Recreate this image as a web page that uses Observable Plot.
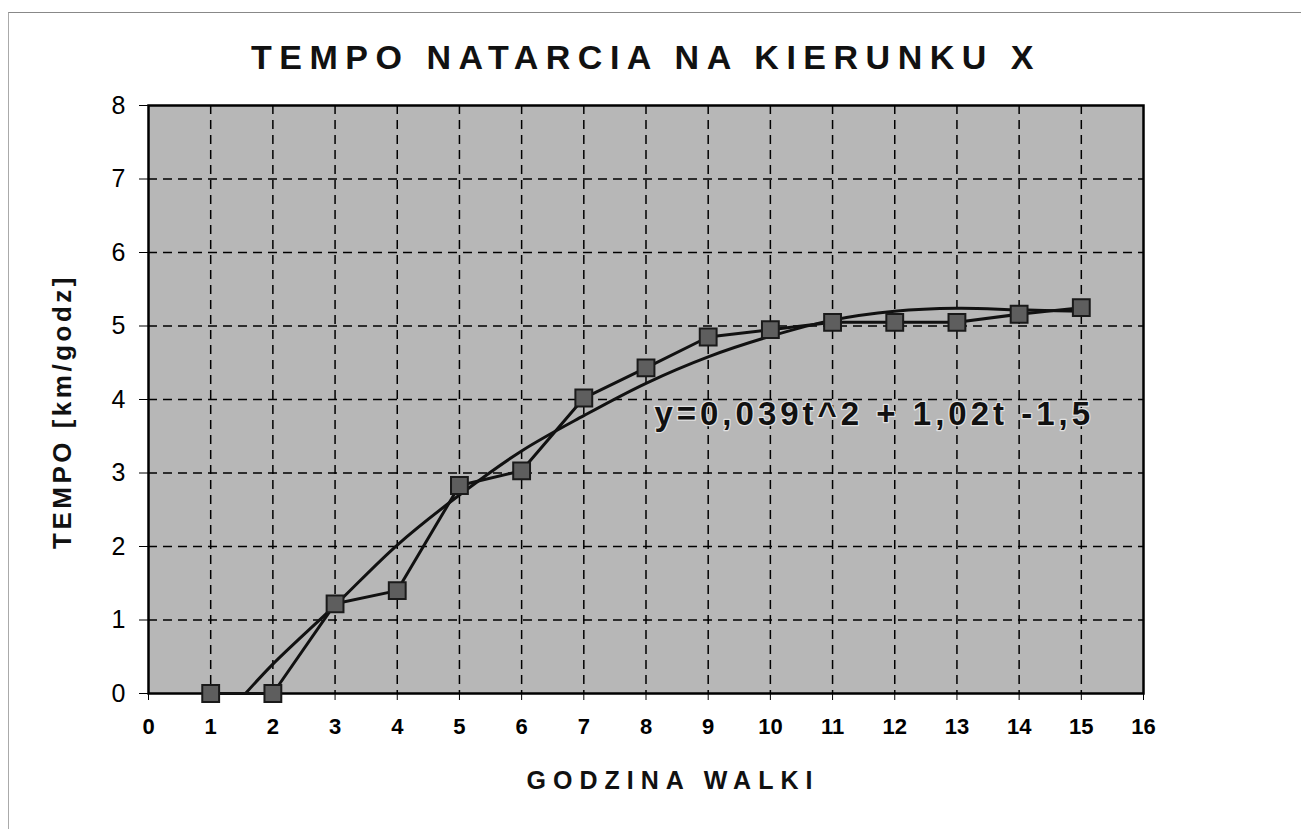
<!DOCTYPE html>
<html>
<head>
<meta charset="utf-8">
<script src="https://cdn.jsdelivr.net/npm/d3@7"></script>
<script src="https://cdn.jsdelivr.net/npm/@observablehq/plot@0.6"></script>
<style>
  html, body { margin: 0; padding: 0; background: #fff; }
  #wrap { position: relative; width: 1301px; height: 829px; overflow: hidden; }
  #edge { position: absolute; left: 8px; top: 12px; width: 1400px; height: 900px;
          border-top: 1.5px solid #888; border-left: 1.5px solid #aaa; pointer-events: none; }
  svg { font-family: Arial, "Liberation Sans", sans-serif; }
</style>
</head>
<body>
<div id="wrap"><div id="edge"></div></div>
<script>
// Observed data: hour of battle vs. rate of advance
const hours = [1, 2, 3, 4, 5, 6, 7, 8, 9, 10, 11, 12, 13, 14, 15];
const tempo = [0, 0, 1.22, 1.4, 2.83, 3.03, 4.02, 4.43, 4.85, 4.95, 5.05, 5.05, 5.05, 5.16, 5.25];

// Trend line
const trendT = [1.56, 2, 3, 4, 5, 6, 7, 8, 9, 10, 11, 12, 13, 14, 15];
const trendV = [0, 0.4, 1.2, 2.02, 2.7, 3.3, 3.78, 4.22, 4.58, 4.86, 5.08, 5.2, 5.24, 5.22, 5.2];

const xTicks = [0, 1, 2, 3, 4, 5, 6, 7, 8, 9, 10, 11, 12, 13, 14, 15, 16];
const yTicks = [0, 1, 2, 3, 4, 5, 6, 7, 8];
const gridX = [1, 2, 3, 4, 5, 6, 7, 8, 9, 10, 11, 12, 13, 14, 15];
const gridY = [1, 2, 3, 4, 5, 6, 7];

const title = "TEMPO NATARCIA NA KIERUNKU X";
const xLabel = "GODZINA WALKI";
const yLabel = "TEMPO [km/godz]";
const equation = ["y=0,039t^2 + 1,02t -1,5"];
const eqPos = {t: 11.67, v: 3.79};

const obs = hours.map((h, i) => ({h, v: tempo[i]}));
const trend = trendT.map((t, i) => ({t, v: trendV[i]}));

const chart = Plot.plot({
  width: 1301,
  height: 829,
  marginLeft: 148,
  marginRight: 158,
  marginTop: 105,
  marginBottom: 136,
  style: {background: "transparent", fontFamily: "Arial, 'Liberation Sans', sans-serif"},
  x: {domain: [0, 16]},
  y: {domain: [0, 8]},
  marks: [
    Plot.frame({fill: "#b7b7b7", stroke: "none"}),
    Plot.gridX(gridX, {stroke: "#000", strokeOpacity: 1, strokeWidth: 1.5, strokeDasharray: "9,6"}),
    Plot.gridY(gridY, {stroke: "#000", strokeOpacity: 1, strokeWidth: 1.5, strokeDasharray: "9,6"}),
    Plot.frame({stroke: "#000", strokeWidth: 2.5}),
    Plot.axisY(yTicks, {tickSize: 9, tickPadding: 14, fontSize: 25, tickFormat: "d", label: null, stroke: "#000"}),
    Plot.axisX(xTicks, {tickSize: 7, tickPadding: 18, fontSize: 22, fontWeight: "bold", tickFormat: "d", label: null, stroke: "#000"}),
    Plot.line(trend, {x: "t", y: "v", stroke: "#111", strokeWidth: 3, curve: "catmull-rom"}),
    Plot.line(obs, {x: "h", y: "v", stroke: "#111", strokeWidth: 3}),
    Plot.dot(obs, {x: "h", y: "v", symbol: "square", r: 9.5, fill: "#5e5e5e", stroke: "#1a1a1a", strokeWidth: 2}),
    Plot.text(equation, {x: () => eqPos.t, y: () => eqPos.v, text: d => d, fontSize: 33, fontWeight: "bold",
      fill: "#111", stroke: "#e0e0e0", strokeWidth: 2.5, paintOrder: "stroke"}),
    Plot.text([title], {frameAnchor: "top", dy: -47, textAnchor: "middle", lineAnchor: "middle", text: d => d,
      fontSize: 34, fontWeight: "bold", fill: "#111"}),
    Plot.text([xLabel], {frameAnchor: "bottom", dx: 27, dy: 87, textAnchor: "middle", lineAnchor: "middle", text: d => d,
      fontSize: 25, fontWeight: "bold", fill: "#111"}),
    Plot.text([yLabel], {frameAnchor: "left", dx: -86, dy: 12, rotate: -90, textAnchor: "middle", lineAnchor: "middle",
      text: d => d, fontSize: 26, fontWeight: "bold", fill: "#111"})
  ]
});
const spacing = new Map([[title, "7.5px"], [xLabel, "7px"], [yLabel, "3.5px"], [equation[0], "4px"]]);
chart.querySelectorAll("text").forEach(t => {
  const s = spacing.get(t.textContent);
  if (s) t.style.letterSpacing = s;
});
document.getElementById("wrap").appendChild(chart);
chart.style.position = "absolute";
chart.style.left = "0px";
chart.style.top = "0px";
</script>
</body>
</html>
